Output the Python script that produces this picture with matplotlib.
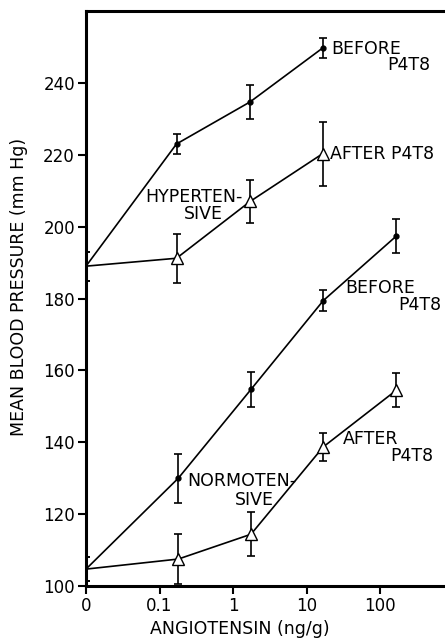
import matplotlib.pyplot as plt
import numpy as np

# angiotensin doses (ng/g), 0 = baseline
hyp_dose = [0, 0.17, 1.7, 16.5]
hyp_before = [189, 223, 234.7, 249.7]
hyp_before_err = [4, 2.8, 4.8, 2.9]
hyp_after = [189, 191.2, 207, 220.3]
hyp_after_err = [4, 6.8, 6, 8.9]

norm_dose = [0, 0.18, 1.75, 16.8, 166]
norm_before = [104.7, 130, 154.7, 179.4, 197.4]
norm_before_err = [3.4, 6.8, 4.9, 2.9, 4.7]
norm_after = [104.7, 107.5, 114.4, 138.7, 154.5]
norm_after_err = [3.4, 7, 6.1, 3.8, 4.8]

xticks = [0, 0.1, 1, 10, 100]
xticklabels = ['0', '0.1', '1', '10', '100']
yticks = [100, 120, 140, 160, 180, 200, 220, 240]

plt.rcParams['font.family'] = ['DejaVu Sans']

fig = plt.figure(figsize=(4.45, 6.43), dpi=100)
ax = fig.add_axes([86/445, 57/643, 1 - 86/445, (586 - 11)/643])

# 0 and each decade evenly spaced
ax.set_xscale('symlog', linthresh=0.1, linscale=0.9)

def draw(x, y, e, filled):
    # line from baseline, error bars everywhere, markers only on doses
    ax.plot(x, y, color='black', lw=1.2, zorder=2)
    ax.errorbar(x, y, yerr=e, fmt='none', ecolor='black', elinewidth=1.2,
                capsize=3, capthick=1.2, zorder=3)
    if filled:
        ax.plot(x[1:], y[1:], 'o', ms=3.5, mfc='black', mec='black', zorder=4)
    else:
        ax.plot(x[1:], y[1:], '^', ms=8, mfc='white', mec='black', mew=1.0,
                zorder=4)

draw(hyp_dose, hyp_before, hyp_before_err, True)
draw(hyp_dose, hyp_after, hyp_after_err, False)
draw(norm_dose, norm_before, norm_before_err, True)
draw(norm_dose, norm_after, norm_after_err, False)

ax.set_xlim(0, 760)
ax.set_ylim(100, 260)
ax.set_xticks(xticks)
ax.set_xticklabels(xticklabels)
ax.minorticks_off()
ax.set_yticks(yticks)

for s in ['left', 'bottom', 'top']:
    ax.spines[s].set_linewidth(2.2)
ax.spines['right'].set_visible(False)
ax.tick_params(direction='out', length=6, width=1.5, labelsize=12, pad=2)

fs = 12.5
yax = ax.get_yaxis_transform()
ax.text(17.5 * 1.25, 249.5, 'BEFORE', fontsize=fs, va='center', ha='left')
ax.text(0.958, 245, 'P4T8', fontsize=fs, va='center', ha='right', transform=yax)
ax.text(17.5 * 1.2, 220.3, 'AFTER P4T8', fontsize=fs, va='center', ha='left')
ax.text(0.29, 208.2, 'HYPERTEN-', fontsize=fs, va='center', ha='center')
ax.text(0.39, 203.4, 'SIVE', fontsize=fs, va='center', ha='center')
ax.text(33, 183, 'BEFORE', fontsize=fs, va='center', ha='left')
ax.text(0.869, 178.2, 'P4T8', fontsize=fs, va='center', ha='left', transform=yax)
ax.text(0.235, 129.1, 'NORMOTEN-', fontsize=fs, va='center', ha='left')
ax.text(1.94, 124.0, 'SIVE', fontsize=fs, va='center', ha='center')
ax.text(31, 141, 'AFTER', fontsize=fs, va='center', ha='left')
ax.text(0.968, 136.2, 'P4T8', fontsize=fs, va='center', ha='right', transform=yax)

ax.set_xlabel('ANGIOTENSIN (ng/g)', fontsize=12.5)
ax.xaxis.set_label_coords((240 - 86) / (445 - 86), -0.06)
ax.set_ylabel('MEAN BLOOD PRESSURE (mm Hg)', fontsize=12.5)
ax.yaxis.set_label_coords(-(86 - 28) / (445 - 86), 0.52)

fig.savefig('out.png', dpi=100)
